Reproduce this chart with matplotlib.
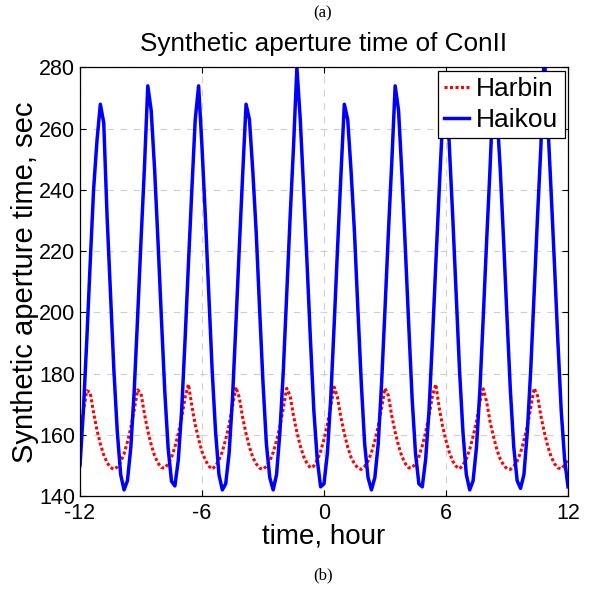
import numpy as np
from matplotlib import pyplot as plt

# sample times, one every 10 minutes over the day
time_hour = np.linspace(-12, 12, 145)

harbin = [
    162.0, 167.8, 174.4, 173.9, 167.2, 161.6, 157.0, 153.4, 150.9, 149.3,
    148.7, 149.5, 151.2, 153.8, 157.7, 162.3, 168.2, 174.7, 173.5, 166.9,
    161.3, 156.8, 153.2, 150.8, 149.3, 149.1, 150.5, 152.6, 156.0, 160.4,
    165.6, 172.2, 176.5, 169.5, 163.3, 158.6, 154.5, 151.7, 149.8, 148.8,
    149.8, 151.7, 154.5, 158.6, 163.3, 169.5, 175.6, 172.2, 165.6, 160.4,
    156.0, 152.6, 150.5, 149.1, 148.7, 149.7, 151.4, 154.2, 158.1, 162.8,
    168.8, 175.2, 172.8, 166.2, 160.9, 156.4, 152.9, 150.6, 149.2, 149.8,
    151.7, 154.5, 158.6, 163.3, 169.5, 175.6, 172.2, 165.6, 160.4, 156.0,
    152.6, 150.5, 149.1, 148.7, 149.7, 151.4, 154.2, 158.1, 162.8, 168.8,
    175.2, 172.8, 166.2, 160.9, 156.4, 152.9, 150.6, 149.2, 149.2, 150.6,
    152.9, 156.4, 160.9, 166.2, 172.8, 176.5, 168.8, 162.8, 158.1, 154.2,
    151.4, 149.7, 148.9, 150.1, 152.1, 155.2, 159.5, 164.3, 170.8, 175.0,
    170.8, 164.3, 159.5, 155.2, 152.1, 150.1, 148.9, 148.7, 149.7, 151.4,
    154.2, 158.1, 162.8, 168.8, 175.2, 172.8, 166.2, 160.9, 156.4, 152.9,
    150.6, 149.2, 148.9, 150.1, 152.1,
]

haikou = [
    150.0, 168.0, 191.0, 216.0, 240.0, 256.0, 268.0, 262.0, 231.0, 206.0,
    181.0, 161.0, 147.0, 142.0, 145.0, 156.0, 174.5, 198.5, 223.5, 247.0,
    274.0, 266.0, 247.0, 223.5, 198.5, 174.5, 155.7, 144.8, 143.3, 151.7,
    168.0, 191.0, 216.0, 240.0, 263.0, 274.0, 254.0, 231.0, 206.0, 181.0,
    161.0, 147.0, 142.0, 144.0, 154.0, 172.0, 196.0, 221.0, 245.0, 268.0,
    263.0, 246.0, 226.0, 201.0, 177.0, 157.0, 146.0, 142.0, 147.0, 161.0,
    181.0, 206.0, 231.0, 254.0, 280.0, 263.0, 240.0, 216.0, 191.0, 168.0,
    152.0, 143.0, 144.0, 154.0, 172.0, 196.0, 221.0, 245.0, 268.0, 263.0,
    246.0, 226.0, 201.0, 177.0, 157.0, 146.0, 142.0, 146.0, 157.0, 177.0,
    201.0, 226.0, 249.0, 274.0, 266.0, 245.0, 221.0, 196.0, 172.0, 154.0,
    144.0, 143.0, 152.0, 168.0, 191.0, 216.0, 240.0, 263.0, 278.0, 254.0,
    231.0, 206.0, 181.0, 161.0, 147.0, 142.0, 145.0, 156.0, 174.5, 198.5,
    223.5, 247.0, 274.0, 266.0, 247.0, 223.5, 198.5, 174.5, 156.0, 145.0,
    142.5, 147.0, 161.0, 181.0, 206.0, 231.0, 254.0, 285.0, 263.0, 240.0,
    216.0, 191.0, 168.0, 152.0, 143.0,
]

x_ticks = [-12, -6, 0, 6, 12]
y_ticks = [140, 160, 180, 200, 220, 240, 260, 280]

plt.rcParams['font.family'] = ['Liberation Sans', 'DejaVu Sans']
plt.rcParams['axes.unicode_minus'] = False

fig = plt.figure(figsize=(5.98, 5.90), dpi=100)
ax = fig.add_axes([0.1338, 0.1593, 0.816, 0.7263])

ax.plot(time_hour, harbin, color='red', linestyle=(0, (1, 0.8)), linewidth=2.2, label='Harbin')
ax.plot(time_hour, haikou, color='blue', linewidth=2.5, label='Haikou')

ax.set_xlim(-12, 12)
ax.set_ylim(140, 280)
ax.set_xticks(x_ticks)
ax.set_yticks(y_ticks)
ax.tick_params(direction='in', top=True, right=True, length=4, labelsize=15.5, width=0.8)
ax.tick_params(axis='x', pad=5)
ax.grid(True, color='#d0d0d0', linestyle=(0, (6, 6)), linewidth=0.8)
for spine in ax.spines.values():
    spine.set_linewidth(0.9)

ax.set_title('Synthetic aperture time of ConII', fontsize=18.8, pad=12)
ax.set_xlabel('time, hour', fontsize=20, labelpad=0)
ax.set_ylabel('Synthetic aperture time, sec', fontsize=21, labelpad=0)

leg = ax.legend(loc='upper right', fontsize=19, handlelength=0.95, handletextpad=0.25,
                borderpad=0.25, labelspacing=0.25, borderaxespad=0.12, fancybox=False)
leg.get_frame().set_edgecolor('black')
leg.get_frame().set_linewidth(0.9)
leg.get_frame().set_alpha(1)

fig.text(0.540, 0.978, '(a)', ha='center', va='center', family='Liberation Serif', fontsize=12)
fig.text(0.540, 0.025, '(b)', ha='center', va='center', family='Liberation Serif', fontsize=12)

plt.savefig('out.png', dpi=100)
plt.close()
